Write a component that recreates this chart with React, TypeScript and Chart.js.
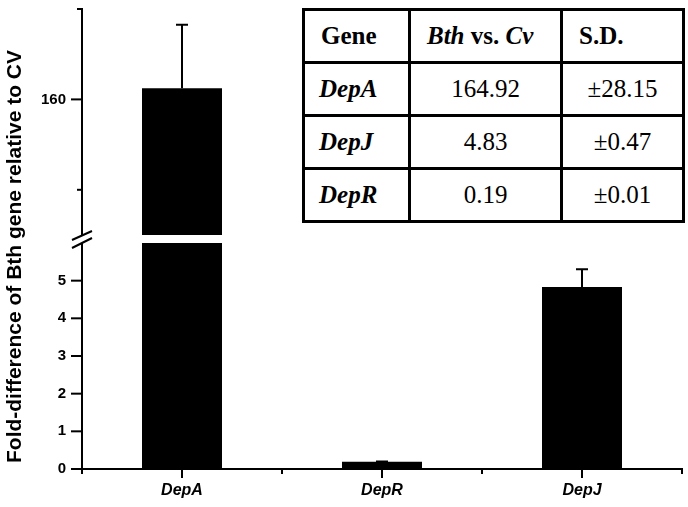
import React, { useEffect, useRef } from "react";
import { Chart, registerables } from "chart.js";

Chart.register(...registerables);

// ---- data ----
const genes = ["DepA", "DepR", "DepJ"];
const foldValues = [164.92, 0.19, 4.83];
const foldSD = [28.15, 0.01, 0.47];
const tableGenes = ["DepA", "DepJ", "DepR"];
const upperTicks = [120, 160, 200];
const upperLabelled = [160];
const lowerTicks = [0, 1, 2, 3, 4, 5];
const yTitle = "Fold-difference of Bth gene relative to CV";
const headerGene = "Gene";
const headerRatio = ["Bth", " vs. ", "Cv"];
const headerSD = "S.D.";

// ---- axis configuration ----
const UPPER_MIN = 98.23;
const UPPER_MAX = 200;
const LOWER_MIN = 0;
const LOWER_MAX = 6.106;

const SANS = "'Liberation Sans', Arial, sans-serif";
const SERIF = "'Liberation Serif', 'Times New Roman', serif";

const zeroPad = (s: any) => {
  s.paddingTop = 0;
  s.paddingBottom = 0;
  s.paddingLeft = 0;
  s.paddingRight = 0;
};

const brokenAxisPlugin = {
  id: "brokenAxis",
  beforeDatasetDraw(chart: any, args: any) {
    const ys = args.meta.yScale;
    const ca = chart.chartArea;
    const ctx = chart.ctx;
    ctx.save();
    ctx.beginPath();
    ctx.rect(ca.left, ys.top, ca.right - ca.left, ys.bottom - ys.top);
    ctx.clip();
  },
  afterDatasetDraw(chart: any) {
    chart.ctx.restore();
  },
  afterDatasetsDraw(chart: any) {
    const ctx = chart.ctx;
    const ca = chart.chartArea;
    const xs = chart.scales.x;
    const up = chart.scales.yUpper;
    const lo = chart.scales.yLower;
    ctx.save();
    ctx.strokeStyle = "#000";
    ctx.lineWidth = 2;
    ctx.lineCap = "butt";

    // error bars (upper side only)
    foldValues.forEach((v, i) => {
      const s = v > LOWER_MAX ? up : lo;
      const px = xs.getPixelForValue(i);
      const y0 = s.getPixelForValue(v);
      const y1 = s.getPixelForValue(v + foldSD[i]);
      ctx.beginPath();
      ctx.moveTo(px, y0);
      ctx.lineTo(px, y1);
      ctx.moveTo(px - 6, y1);
      ctx.lineTo(px + 6, y1);
      ctx.stroke();
    });

    // axis break gap
    const b = lo.top;
    ctx.fillStyle = "#fff";
    ctx.fillRect(ca.left - 4, b - 4, ca.right - ca.left + 4, 8);
    const L = ca.left;
    ctx.beginPath();
    ctx.moveTo(L - 10, b + 1);
    ctx.lineTo(L + 10, b - 8);
    ctx.moveTo(L - 10, b + 9);
    ctx.lineTo(L + 10, b - 1);
    ctx.stroke();

    // y tick marks
    const yTick = (s: any, v: number, len: number) => {
      const py = s.getPixelForValue(v);
      ctx.beginPath();
      ctx.moveTo(L - len, py);
      ctx.lineTo(L, py);
      ctx.stroke();
    };
    upperTicks.forEach((v) => yTick(up, v, upperLabelled.includes(v) ? 11 : 5));
    lowerTicks.forEach((v) => yTick(lo, v, 11));

    // x tick marks
    const xb = xs.top;
    genes.forEach((_, i) => {
      const px = xs.getPixelForValue(i);
      ctx.beginPath();
      ctx.moveTo(px, xb);
      ctx.lineTo(px, xb + 9);
      ctx.stroke();
    });
    const step = (ca.right - ca.left) / genes.length;
    for (let i = 0; i <= genes.length; i++) {
      const px = ca.left + step * i;
      ctx.beginPath();
      ctx.moveTo(px, xb);
      ctx.lineTo(px, xb + 5);
      ctx.stroke();
    }

    // y title
    ctx.save();
    ctx.translate(15, 256.5);
    ctx.rotate(-Math.PI / 2);
    ctx.fillStyle = "#000";
    ctx.font = `bold 21px ${SANS}`;
    ctx.textAlign = "center";
    ctx.textBaseline = "middle";
    ctx.fillText(yTitle, 0, 0);
    ctx.restore();

    ctx.restore();
  },
};

function ChartCanvas() {
  const ref = useRef<HTMLCanvasElement | null>(null);
  useEffect(() => {
    if (!ref.current) return;
    const yCommon = {
      type: "linear" as const,
      position: "left" as const,
      stack: "ybreak",
      stackWeight: 1,
      grid: { display: false, drawTicks: false },
      border: { display: true, color: "#000", width: 2 },
      afterFit: (s: any) => {
        s.width = 82;
        zeroPad(s);
      },
    };
    const chart = new Chart(ref.current, {
      type: "bar",
      data: {
        labels: genes,
        datasets: [
          {
            label: "upper",
            data: foldValues,
            yAxisID: "yUpper",
            backgroundColor: "#000",
            borderWidth: 0,
            grouped: false,
            barPercentage: 0.4,
            categoryPercentage: 1,
          },
          {
            label: "lower",
            data: foldValues,
            yAxisID: "yLower",
            backgroundColor: "#000",
            borderWidth: 0,
            grouped: false,
            barPercentage: 0.4,
            categoryPercentage: 1,
          },
        ],
      },
      options: {
        responsive: false,
        animation: false,
        devicePixelRatio: 1,
        layout: { padding: { top: 9, right: 6, left: 0, bottom: 0 } },
        plugins: { legend: { display: false }, tooltip: { enabled: false } },
        scales: {
          x: {
            type: "category",
            grid: { display: false, drawTicks: false, offset: false },
            border: { display: true, color: "#000", width: 2 },
            ticks: {
              color: "#000",
              padding: 12,
              autoSkip: false,
              maxRotation: 0,
              font: { family: SANS, size: 16, weight: "bold", style: "italic" },
            },
            afterFit: (s: any) => {
              s.height = 38;
              zeroPad(s);
            },
          },
          yLower: {
            ...yCommon,
            min: LOWER_MIN,
            max: LOWER_MAX,
            afterBuildTicks: (s: any) => {
              s.ticks = lowerTicks.map((v) => ({ value: v }));
            },
            ticks: {
              color: "#000",
              padding: 16,
              font: { family: SANS, size: 15, weight: "bold" },
              callback: (v: any) => String(v),
            },
          },
          yUpper: {
            ...yCommon,
            min: UPPER_MIN,
            max: UPPER_MAX,
            afterBuildTicks: (s: any) => {
              s.ticks = upperTicks.map((v) => ({ value: v }));
            },
            ticks: {
              color: "#000",
              padding: 16,
              font: { family: SANS, size: 15, weight: "bold" },
              callback: (v: any) => (upperLabelled.includes(Number(v)) ? String(v) : ""),
            },
          },
        },
      } as any,
      plugins: [brokenAxisPlugin],
    });
    return () => chart.destroy();
  }, []);
  return <canvas ref={ref} width={688} height={507} style={{ display: "block", width: 688, height: 507 }} />;
}

const cellBase: React.CSSProperties = {
  borderRight: "3px solid #000",
  borderBottom: "3px solid #000",
  boxSizing: "border-box",
  display: "flex",
  alignItems: "center",
  fontFamily: SERIF,
  fontSize: 25,
  color: "#000",
  whiteSpace: "nowrap",
};

function DataTable() {
  const headLeft: React.CSSProperties = { ...cellBase, paddingLeft: 16, fontWeight: "bold" };
  return (
    <div
      style={{
        position: "absolute",
        left: 302,
        top: 8,
        display: "grid",
        gridTemplateColumns: "106px 152px 122px",
        gridTemplateRows: "53px 53px 53px 53px",
        borderLeft: "3px solid #000",
        borderTop: "3px solid #000",
        background: "#fff",
      }}
    >
      <div style={headLeft}>{headerGene}</div>
      <div style={headLeft}>
        <i>{headerRatio[0]}</i>
        <span style={{ whiteSpace: "pre" }}>{headerRatio[1]}</span>
        <i>{headerRatio[2]}</i>
      </div>
      <div style={headLeft}>{headerSD}</div>
      {tableGenes.map((g) => {
        const i = genes.indexOf(g);
        return (
          <React.Fragment key={g}>
            <div style={{ ...cellBase, paddingLeft: 14, fontWeight: "bold", fontStyle: "italic" }}>{g}</div>
            <div style={{ ...cellBase, justifyContent: "center" }}>{foldValues[i].toFixed(2)}</div>
            <div style={{ ...cellBase, justifyContent: "center" }}>{"±" + foldSD[i].toFixed(2)}</div>
          </React.Fragment>
        );
      })}
    </div>
  );
}

export default function App() {
  return (
    <div style={{ position: "absolute", left: 0, top: 0, width: 688, height: 507, background: "#fff" }}>
      <ChartCanvas />
      <DataTable />
    </div>
  );
}
